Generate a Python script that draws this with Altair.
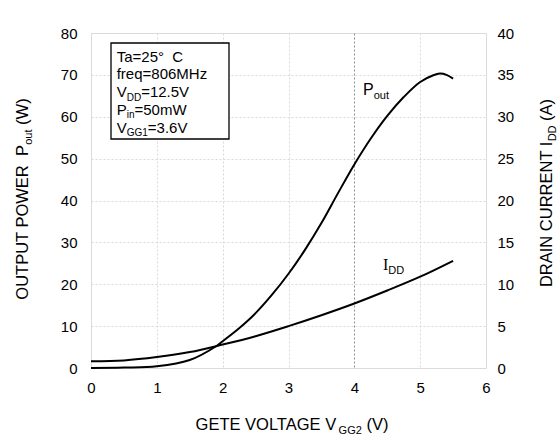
import altair as alt
import pandas as pd

# ---------------- data ----------------
vgg2_p = [0, 0.5, 1, 1.5, 1.9, 2, 2.25, 2.5, 2.75, 3, 3.25, 3.5, 3.75, 4, 4.25, 4.5, 4.75, 5, 5.2, 5.3, 5.4, 5.5]
pout = [0, 0.1, 0.4, 1.9, 5.2, 6.4, 9.5, 13.1, 17.5, 22.5, 28.2, 34.6, 41.7, 48.6, 54.8, 60.2, 64.7, 68.3, 69.9, 70.3, 70.0, 69.1]

vgg2_i = [0, 0.5, 1, 1.5, 2, 2.5, 3, 3.5, 4, 4.5, 5, 5.5]
idd = [0.8, 0.9, 1.3, 1.9, 2.8, 3.8, 5.0, 6.3, 7.7, 9.25, 10.9, 12.8]

x_ticks = [0, 1, 2, 3, 4, 5, 6]
pout_ticks = [0, 10, 20, 30, 40, 50, 60, 70, 80]
idd_ticks = [0, 5, 10, 15, 20, 25, 30, 35, 40]

legend_lines = [
    [("Ta=25°\u00a0 C", False)],
    [("freq=806MHz", False)],
    [("V", False), ("DD", True), ("=12.5V", False)],
    [("P", False), ("in", True), ("=50mW", False)],
    [("V", False), ("GG1", True), ("=3.6V", False)],
]
x_title = [("GETE VOLTAGE V", False), ("GG2", True), (" (V)", False)]
y_title = [("OUTPUT POWER\u00a0 P", False), ("out", True), (" (W)", False)]
y2_title = [("DRAIN CURRENT I", False), ("DD", True), (" (A)", False)]
pout_label = [("P", False), ("out", True)]
idd_label = [("I", False, "serif"), ("DD", True)]

# ---------------- layout ----------------
FONT = "Liberation Sans"
SERIF = "Liberation Serif"
W, H = 395, 335

ARIAL = {
    ' ': 278, '\u00a0': 278, '=': 584, '.': 278, '(': 333, ')': 333, '°': 400,
    'A': 667, 'C': 722, 'D': 722, 'E': 667, 'G': 778, 'H': 722, 'I': 278, 'L': 556,
    'M': 833, 'N': 722, 'O': 778, 'P': 667, 'R': 722, 'T': 611, 'U': 722, 'V': 667,
    'W': 944, 'a': 556, 'e': 556, 'f': 278, 'i': 222, 'm': 833, 'n': 556, 'o': 556,
    'q': 556, 'r': 333, 't': 278, 'u': 556, 'w': 722, 'z': 500,
}
TIMES = {'I': 333}


def tw(s, fs, serif=False):
    tab = TIMES if serif else ARIAL
    return sum(tab.get(c, ARIAL.get(c, 556)) for c in s) * fs / 1000.0


one = pd.DataFrame({"k": [0]})


def rich(segments, x0, y0, fs, sfs, angle=0, anchor="left", shift=3.5):
    total = 0.0
    for seg in segments:
        size = sfs if seg[1] else fs
        total += tw(seg[0], size, len(seg) > 2)
    off = 0.0 if anchor == "left" else -total / 2.0
    out = []
    for seg in segments:
        t, sub = seg[0], seg[1]
        serif = len(seg) > 2
        size = sfs if sub else fs
        shown = t.lstrip(" ")
        off += tw(t[: len(t) - len(shown)], fs)
        dy = shift if sub else 0.0
        if angle == 0:
            px, py = x0 + off, y0 + dy
        else:
            px, py = x0 + dy, y0 - off
        out.append(
            alt.Chart(one)
            .mark_text(align="left", baseline="alphabetic", fontSize=size, angle=angle,
                       font=SERIF if serif else FONT, color="black")
            .encode(x=alt.value(px), y=alt.value(py), text=alt.value(shown))
        )
        off += tw(shown, size, serif)
    return out


x_enc = alt.X(
    "v:Q",
    scale=alt.Scale(domain=[0, 6], nice=False),
    axis=alt.Axis(
        values=x_ticks, format="d", title=None, ticks=False, domain=False, labelPadding=12,
        labelFontSize=15, labelFont=FONT, labelColor="black", labelFlush=False,
        grid=True, gridDash=[2, 2], gridWidth=1,
        gridColor={"condition": {"test": "datum.value === 4", "value": "#8c8c8c"}, "value": "#d9d9d9"},
    ),
)

p_line = (
    alt.Chart(pd.DataFrame({"v": vgg2_p, "p": pout}))
    .mark_line(color="black", strokeWidth=2, interpolate="catmull-rom")
    .encode(
        x=x_enc,
        y=alt.Y(
            "p:Q",
            scale=alt.Scale(domain=[0, 80], nice=False),
            axis=alt.Axis(
                orient="left", values=pout_ticks, format="d", title=None, ticks=False, domain=False,
                labelPadding=14, labelFontSize=15, labelFont=FONT, labelColor="black",
                labelFlush=False, grid=True, gridDash=[2, 2], gridColor="#d9d9d9", gridWidth=1,
            ),
        ),
    )
)

i_line = (
    alt.Chart(pd.DataFrame({"v": vgg2_i, "i": idd}))
    .mark_line(color="black", strokeWidth=2, interpolate="catmull-rom")
    .encode(
        x=alt.X("v:Q"),
        y=alt.Y(
            "i:Q",
            scale=alt.Scale(domain=[0, 40], nice=False),
            axis=alt.Axis(
                orient="right", values=idd_ticks, format="d", title=None, ticks=False, domain=False,
                labelPadding=11, labelFontSize=15, labelFont=FONT, labelColor="black",
                labelFlush=False, grid=False,
            ),
        ),
    )
)

box = (
    alt.Chart(one)
    .mark_rect(fill="white", stroke="black", strokeWidth=1.3)
    .encode(x=alt.value(20), x2=alt.value(138), y=alt.value(10), y2=alt.value(106))
)

ann = [box]
for n, line in enumerate(legend_lines):
    ann += rich(line, 25.7, 28.7 + 17.75 * n, 15, 10)
ann += rich(pout_label, 272, 62, 16, 11)
ann += rich(idd_label, 292, 237, 16, 11)
ann += rich(x_title, 201, 397, 16.5, 11, anchor="center")
ann += rich(y_title, -63, 166, 16.5, 11, angle=270, anchor="center")
ann += rich(y2_title, 461, 160, 16.5, 11, angle=270, anchor="center")

lines = alt.layer(p_line, i_line).resolve_scale(y="independent")

chart = (
    alt.layer(lines, *ann)
    .properties(
        width=W, height=H,
        autosize=alt.AutoSizeParams(type="none"),
        padding={"left": 91, "top": 33, "right": 74, "bottom": 67},
    )
    .configure_view(stroke="black", strokeWidth=2)
    .configure(background="white")
)

chart.save("out.html", embed_options={"renderer": "svg", "actions": False})
